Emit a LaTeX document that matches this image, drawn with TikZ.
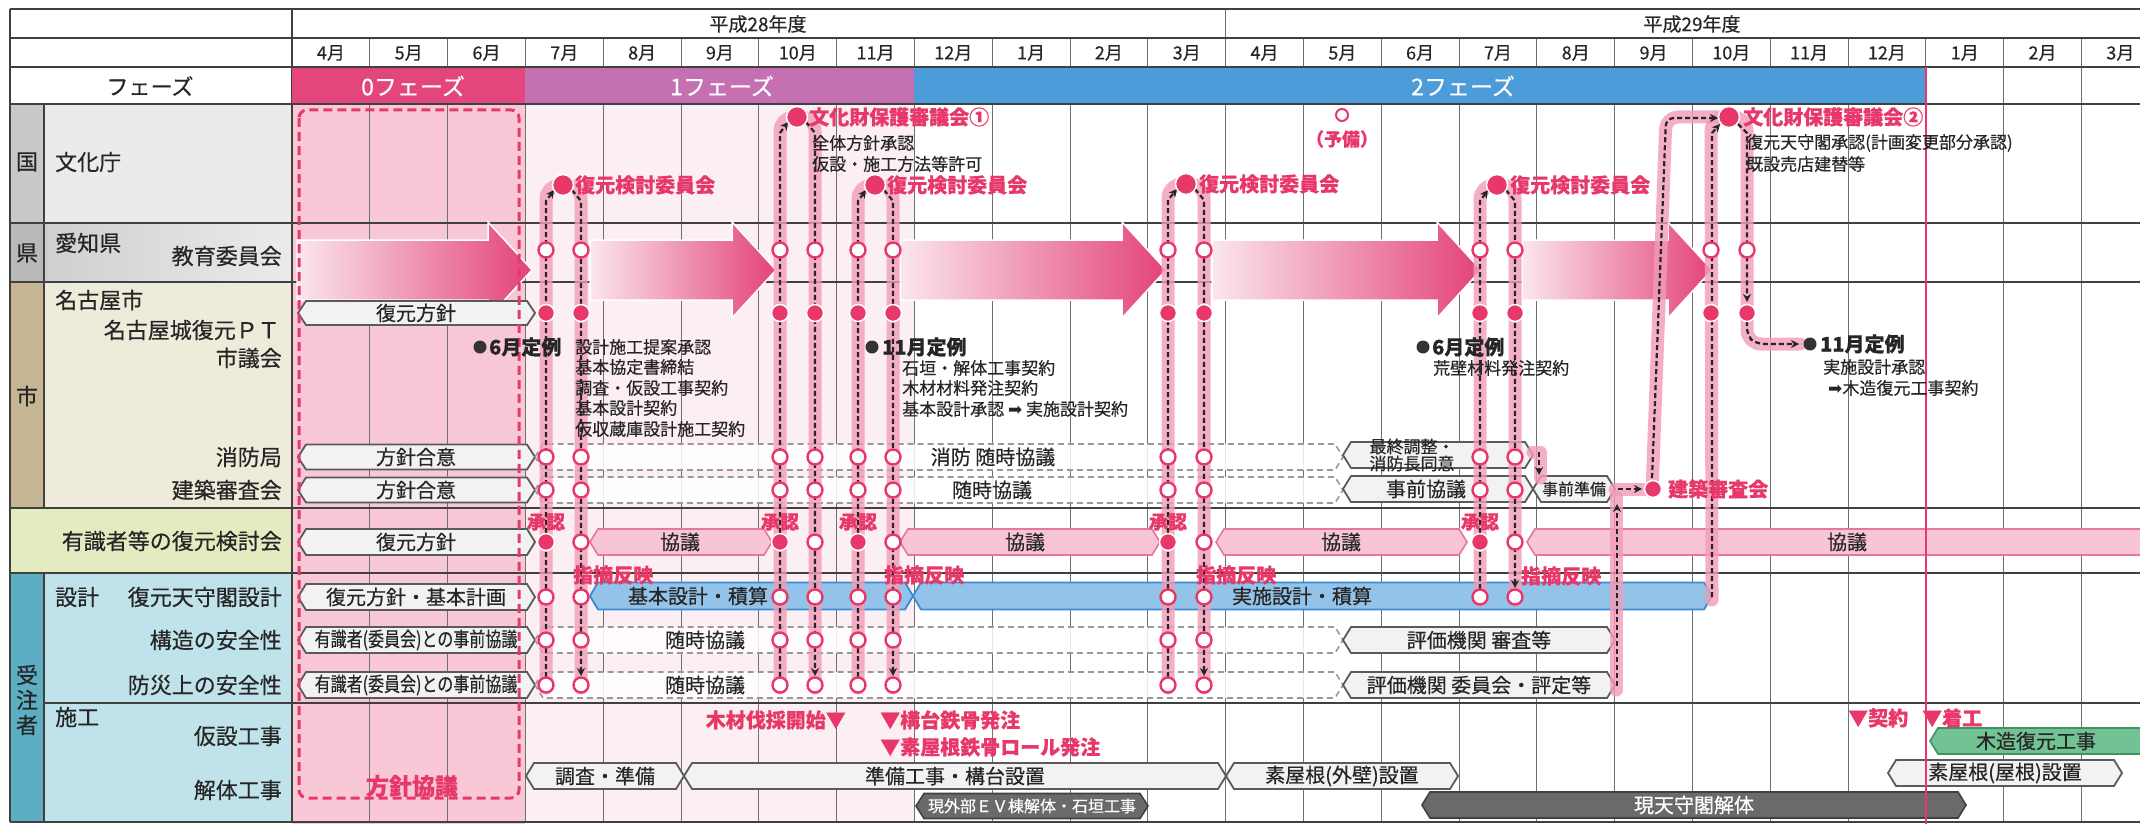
\documentclass[tikz,border=0pt]{standalone}
\usepackage{fontspec}
\setmainfont{Noto Sans CJK JP}[FakeBold=0.45]
\newfontfamily\dejavu{DejaVu Sans}
\usetikzlibrary{arrows.meta}
\definecolor{rd}{HTML}{E8386A}
\definecolor{glowc}{HTML}{F29CB6}
\definecolor{phA}{HTML}{E2467C}
\definecolor{phB}{HTML}{C670B4}
\definecolor{phC}{HTML}{4C9CD9}
\definecolor{bgpink}{HTML}{F9C8D7}
\definecolor{bgfaint}{HTML}{FCEFF3}
\definecolor{kuniA}{HTML}{C9C9C9}
\definecolor{kuniB}{HTML}{EBEBEB}
\definecolor{kenA}{HTML}{B9B9B9}
\definecolor{kenB}{HTML}{CFCFCF}
\definecolor{shiA}{HTML}{C6B693}
\definecolor{shiB}{HTML}{EFEBDA}
\definecolor{grn}{HTML}{E3ECC0}
\definecolor{tealA}{HTML}{5DADC3}
\definecolor{tealB}{HTML}{C0E3EB}
\definecolor{boxfill}{HTML}{F2F2F2}
\definecolor{boxline}{HTML}{5A5A5A}
\definecolor{kyogi}{HTML}{F8C5D6}
\definecolor{kyogiL}{HTML}{E5769D}
\definecolor{blueF}{HTML}{93C3E8}
\definecolor{blueL}{HTML}{3A8BD3}
\definecolor{darkbox}{HTML}{6A6A6A}
\definecolor{greenbox}{HTML}{72C293}
\definecolor{greenL}{HTML}{3E9461}
\definecolor{gridc}{HTML}{707070}
\definecolor{arrL}{HTML}{FBE6ED}
\definecolor{arrR}{HTML}{E3437A}
\newcommand\fsz[1]{\fontsize{#1}{#1}\selectfont}
\newcommand\hexdraw[5]{\draw[#1] (#2,#4) -- ({#2+8},{#4-#5}) -- ({#3-8},{#4-#5}) -- (#3,#4) -- ({#3-8},{#4+#5}) -- ({#2+8},{#4+#5}) -- cycle;}
\newcommand\bigarrow[2]{\shadedraw[draw=white, line width=1.5, left color=arrL, right color=arrR] (#1,240) -- ({#2-44},240) -- ({#2-44},222) -- (#2,270) -- ({#2-44},318) -- ({#2-44},300) -- (#1,300) -- cycle;}
\newcommand\loopath[5]{%
  \draw[glowln, rounded corners=14] (#1,{#4+3}) -- (#1,#3) -- (#2,#3) -- (#2,{#4+3});
  \draw[bd, arr] (#1,#4) -- (#1,{#3+16}) -- ({#5-9},{#3+5});
  \draw[bd, arr] ({#5+9},{#3+5}) -- (#2,{#3+16}) -- (#2,{#4-9});}
\begin{document}
\begin{tikzpicture}[x=1pt, y=-1pt,
  lbl/.style={font=\fsz{22}, inner sep=0, text=black!85},
  mon/.style={font=\fsz{18}, inner sep=0, text=black!85},
  bx/.style={font=\fsz{20}, inner sep=0, text=black!85},
  sm/.style={font=\fsz{17}, inner sep=0, anchor=west, text=black!85},
  kl/.style={font=\fsz{20}\bfseries, inner sep=0, anchor=west, text=black!85},
  rl/.style={font=\fsz{20}\bfseries, inner sep=0, text=rd},
  rowln/.style={draw=black!75, line width=1.3},
  gridln/.style={draw=gridc, line width=0.9},
  hexbox/.style={draw=boxline, fill=boxfill, line width=1.8},
  hexdash/.style={draw=black!40, dash pattern=on 6pt off 4pt, line width=1.6, fill=white, fill opacity=0.85},
  hexpink/.style={draw=kyogiL, fill=kyogi, line width=1.6},
  hexblue/.style={draw=blueL, fill=blueF, line width=1.8},
  hexdark/.style={draw=black!75, fill=darkbox, line width=1.6},
  hexgreen/.style={draw=greenL, fill=greenbox, line width=1.6},
  glowln/.style={line width=13, draw=glowc, draw opacity=0.8, line cap=round, line join=round},
  bd/.style={line width=2.2, draw=black!85, dash pattern=on 5pt off 3pt},
  arr/.style={-{Stealth[length=8pt,width=8pt]}},
  oc/.style={circle, draw=rd, fill=white, line width=2.4, minimum size=15, inner sep=0},
  fc/.style={circle, draw=white, fill=rd, line width=1.5, minimum size=17, inner sep=0},
  td/.style={circle, draw=white, fill=rd, line width=1.5, minimum size=21, inner sep=0},
  kd/.style={circle, fill=black!80, minimum size=13, inner sep=0}]
\useasboundingbox (0,0) rectangle (2140,824);
\fill[white] (0,0) rectangle (2140,824);
% left column colours
\fill[kuniA] (10,104) rectangle (44,223);
\fill[kuniB] (44,104) rectangle (292,223);
\fill[kenA] (10,223) rectangle (44,282);
\shade[left color=kenB, right color=kuniB] (44,223) rectangle (292,282);
\fill[shiA] (10,282) rectangle (44,508);
\fill[shiB] (44,282) rectangle (292,508);
\fill[grn] (10,508) rectangle (292,573);
\fill[tealA] (10,573) rectangle (44,822);
\fill[tealB] (44,573) rectangle (292,822);
% chart backgrounds
\fill[bgfaint] (525.4,104) rectangle (914.4,822);
\fill[bgpink] (292,104) rectangle (525.4,824);
% grid
\foreach \i in {1,...,23} \draw[gridln] ({292+77.8*\i},38) -- ({292+77.8*\i},822);
\draw[gridln] (1225.6,9) -- (1225.6,38);
\foreach \y in {9,38,67,104,223,282,508,573,822} \draw[rowln] (10,\y) -- (2140,\y);
\draw[rowln] (44,703) -- (2140,703);
\draw[rowln] (10,9) -- (10,822);
\draw[rowln] (292,9) -- (292,822);
\draw[rowln] (44,104) -- (44,508);
\draw[rowln] (44,573) -- (44,822);
% phase bars
\fill[phA] (292,68) rectangle (525.4,103.5);
\fill[phB] (525.4,68) rectangle (914.4,103.5);
\fill[phC] (914.4,68) rectangle (1925.8,103.5);
\node[font=\fsz{23}, text=white, inner sep=0] (ph0) at (413,86) {0フェーズ};
\node[font=\fsz{23}, text=white, inner sep=0] (ph1) at (722,86) {1フェーズ};
\node[font=\fsz{23}, text=white, inner sep=0] (ph2) at (1463,86) {2フェーズ};
% header texts
\node[mon, font=\fsz{19}] (yr1) at (758,24) {平成28年度};
\node[mon, font=\fsz{19}] (yr2) at (1692,24) {平成29年度};
\foreach \m [count=\i from 0] in {4,5,6,7,8,9,10,11,12,1,2,3,4,5,6,7,8,9,10,11,12,1,2,3}
  \node[mon] (mon\i) at ({292+77.8*(\i+0.5)},53) {\m 月};
\node[lbl] (phase) at (150,86) {フェーズ};
% left labels
\node[lbl] (kuni) at (27,162) {国};
\node[lbl, anchor=west] (bunka) at (55,162) {文化庁};
\node[lbl] (ken) at (27,253) {県};
\node[lbl, anchor=west] (aichi) at (55,243) {愛知県};
\node[lbl, anchor=east] (kyoiku) at (282,256) {教育委員会};
\node[lbl] (shi) at (27,396) {市};
\node[lbl, anchor=west] (nagoya) at (55,300) {名古屋市};
\node[lbl, anchor=east] (pt) at (280,330) {名古屋城復元ＰＴ};
\node[lbl, anchor=east] (gikai) at (282,358) {市議会};
\node[lbl, anchor=east] (shobo) at (282,457) {消防局};
\node[lbl, anchor=east] (kenchiku) at (282,490) {建築審査会};
\node[lbl, anchor=east] (yushiki) at (282,541) {有識者等の復元検討会};
\node[lbl, align=center, font=\fontsize{22}{25}\selectfont] (juchu) at (27,700) {受\\注\\者};
\node[lbl, anchor=west] (sekkei) at (55,597) {設計};
\node[lbl, anchor=east] (tenshu) at (282,597) {復元天守閣設計};
\node[lbl, anchor=east] (kozo) at (282,640) {構造の安全性};
\node[lbl, anchor=east] (bosai) at (282,685) {防災上の安全性};
\node[lbl, anchor=west] (seko) at (55,717) {施工};
\node[lbl, anchor=east] (kasetsu) at (282,736) {仮設工事};
\node[lbl, anchor=east] (kaitai) at (282,790) {解体工事};
% big arrows
\bigarrow{297}{532}
\bigarrow{590}{776}
\bigarrow{900}{1166}
\bigarrow{1212}{1481}
\bigarrow{1522}{1712}
% boxes
\hexdraw{hexbox}{298}{535}{313}{12}
\node[bx] (b1) at (416,313) {復元方針};
\hexdraw{hexbox}{298}{535}{457}{12.5}
\node[bx] (b2) at (416,457) {方針合意};
\hexdraw{hexbox}{298}{535}{490}{12.5}
\node[bx] (b3) at (416,490) {方針合意};
\hexdraw{hexdash}{535}{1343}{457}{13}
\node[bx] (b4) at (993,457) {消防 随時協議};
\hexdraw{hexdash}{535}{1343}{490}{13}
\node[bx] (b5) at (992,490) {随時協議};
\hexdraw{hexbox}{1343}{1533}{455}{13}
\node[bx, align=center, font=\fontsize{17}{17}\selectfont] (b6) at (1412,455) {最終調整・\\消防長同意};
\hexdraw{hexbox}{1343}{1533}{489}{13}
\node[bx] (b7) at (1426,489) {事前協議};
\hexdraw{hexbox}{1533}{1615}{489}{13}
\node[bx, font=\fsz{16}] (b8) at (1574,489) {事前準備};
\hexdraw{hexbox}{298}{535}{542}{13}
\node[bx] (b9) at (416,542) {復元方針};
\hexdraw{hexpink}{590}{772}{542}{13}
\node[bx] (b10) at (680,542) {協議};
\hexdraw{hexpink}{900}{1160}{542}{13}
\node[bx] (b11) at (1025,542) {協議};
\hexdraw{hexpink}{1216}{1467}{542}{13}
\node[bx] (b12) at (1341,542) {協議};
\hexdraw{hexpink}{1527}{2180}{542}{13}
\node[bx] (b13) at (1847,542) {協議};
\hexdraw{hexbox}{298}{535}{597}{13}
\node[bx] (b14) at (416,597) {復元方針・基本計画};
\hexdraw{hexblue}{590}{913}{596}{13.5}
\node[bx] (b15) at (698,596) {基本設計・積算};
\hexdraw{hexblue}{913}{1712}{596}{13.5}
\node[bx] (b16) at (1302,596) {実施設計・積算};
\hexdraw{hexbox}{298}{535}{640}{13}
\node[bx] (b17) at (416,640) {\scalebox{0.8}[1]{有識者(委員会)との事前協議}};
\hexdraw{hexdash}{535}{1343}{640}{13}
\node[bx] (b18) at (705,640) {随時協議};
\hexdraw{hexbox}{1343}{1615}{640}{13}
\node[bx] (b19) at (1479,640) {評価機関 審査等};
\hexdraw{hexbox}{298}{535}{685}{13}
\node[bx] (b20) at (416,685) {\scalebox{0.8}[1]{有識者(委員会)との事前協議}};
\hexdraw{hexdash}{535}{1343}{685}{13}
\node[bx] (b21) at (705,685) {随時協議};
\hexdraw{hexbox}{1343}{1615}{685}{13}
\node[bx] (b22) at (1479,685) {評価機関 委員会・評定等};
\hexdraw{hexbox}{526}{684}{776}{13}
\node[bx] (b23) at (605,776) {調査・準備};
\hexdraw{hexbox}{684}{1226}{776}{13}
\node[bx] (b24) at (955,776) {準備工事・構台設置};
\hexdraw{hexbox}{1226}{1458}{776}{13}
\node[bx] (b25) at (1342,776) {素屋根(外壁)設置};
\hexdraw{hexdark}{916}{1148}{806}{12.5}
\node[bx, font=\fsz{16}, text=white] (b26) at (1032,806) {現外部ＥＶ棟解体・石垣工事};
\hexdraw{hexdark}{1422}{1966}{805}{13}
\node[bx, text=white] (b27) at (1694,805) {現天守閣解体};
\hexdraw{hexgreen}{1930}{2180}{741}{13}
\node[bx] (b28) at (2036,741) {木造復元工事};
\hexdraw{hexbox}{1888}{2122}{773}{13}
\node[bx] (b29) at (2005,773) {素屋根(屋根)設置};
% phase 0 dashed frame
\draw[rd, line width=3, dash pattern=on 9pt off 5pt, rounded corners=8] (299,110) rectangle (519,798);
\node[rl, font=\fsz{23}\bfseries] (hoshin) at (412,786) {方針協議};
% now line
\draw[rd, line width=2.5] (1925.8,67) -- (1925.8,824);
% loops
\loopath{546}{581}{185}{685}{563}
\loopath{780}{815}{117}{685}{797}
\loopath{858}{893}{185}{685}{875}
\loopath{1168}{1204}{184}{685}{1186}
\loopath{1480}{1515}{185}{597}{1497}
% F and connectors
\draw[glowln, rounded corners=14] (1712,600) -- (1711,117) -- (1747,117) -- (1747,344) -- (1800,344);
\draw[glowln, rounded corners=12] (1652,492) -- (1666,117) -- (1722,117);
\draw[glowln] (1533,452) -- (1540,452) -- (1540,478);
\draw[glowln] (1615,489) -- (1650,489);
\draw[glowln] (1616,690) -- (1616,497);
\draw[bd, arr] (1712,597) -- (1712,133) -- (1720,124);
\draw[bd, arr] (1738,124) -- (1747,133) -- (1747,302);
\draw[bd, arr, rounded corners=8] (1747,313) -- (1747,336) -- (1756,344) -- (1799,344);
\draw[bd, arr, rounded corners=8] (1652,478) -- (1666,118) -- (1718,118);
\draw[bd, arr] (1539,452) -- (1539,475);
\draw[bd, arr] (1618,489) -- (1642,489);
\draw[bd, arr] (1617,686) -- (1617,504);
% circles
\foreach \p/\xl/\xr in {A/546/581, B/780/815, C/858/893, D/1168/1204} {
  \foreach \r/\y in {k/250, s/457, c/490, d/597, z/640, b/685} {
    \node[oc] (\p L\r) at (\xl,\y) {};
    \node[oc] (\p R\r) at (\xr,\y) {};
  }
  \node[fc] (\p Lp) at (\xl,313) {};
  \node[fc] (\p Rp) at (\xr,313) {};
  \node[fc] (\p Ly) at (\xl,542) {};
  \node[oc] (\p Ry) at (\xr,542) {};
}
\foreach \r/\y in {k/250, s/457, c/490, d/597} {
  \node[oc] (EL\r) at (1480,\y) {};
  \node[oc] (ER\r) at (1515,\y) {};
}
\node[fc] (ELp) at (1480,313) {};
\node[fc] (ERp) at (1515,313) {};
\node[fc] (ELy) at (1480,542) {};
\node[oc] (ERy) at (1515,542) {};
\node[oc] (FLk) at (1711,250) {};
\node[fc] (FLp) at (1711,313) {};
\node[oc] (FRk) at (1747,250) {};
\node[fc] (FRp) at (1747,313) {};
\node[td] (At) at (563,185) {};
\node[td] (Bt) at (797,117) {};
\node[td] (Ct) at (875,185) {};
\node[td] (Dt) at (1186,184) {};
\node[td] (Et) at (1497,185) {};
\node[td] (Ft) at (1729,117) {};
\node[fc] (Kdot) at (1653,489) {};
\node[oc, minimum size=12, line width=2] (yobi) at (1342,115) {};
% red labels
\node[rl, anchor=west] (lA) at (575,185) {復元検討委員会};
\node[rl, anchor=west] (lB) at (809,117) {文化財保護審議会①};
\node[rl, anchor=west] (lC) at (887,185) {復元検討委員会};
\node[rl, anchor=west] (lD) at (1199,184) {復元検討委員会};
\node[rl, anchor=west] (lE) at (1510,185) {復元検討委員会};
\node[rl, anchor=west] (lF) at (1743,117) {文化財保護審議会②};
\node[rl, anchor=west] (lK) at (1668,489) {建築審査会};
\node[rl, font=\fsz{18}\bfseries] (lyobi) at (1342,139) {（予備）};
\foreach \x [count=\k] in {546,780,858,1168,1480}
  \node[rl, font=\fsz{19}\bfseries] (sho\k) at (\x,522) {承認};
\node[rl, anchor=west] (sa1) at (573,575) {指摘反映};
\node[rl, anchor=west] (sa2) at (884,575) {指摘反映};
\node[rl, anchor=west] (sa3) at (1196,575) {指摘反映};
\node[rl, anchor=west] (sa4) at (1521,576) {指摘反映};
\node[rl, anchor=east] (mokuzai) at (846,720) {木材伐採開始▼};
\node[rl, anchor=west] (kodai) at (880,720) {▼構台鉄骨発注};
\node[rl, anchor=west] (suyane) at (880,747) {▼素屋根鉄骨ロール発注};
\node[rl, anchor=west] (keiyaku) at (1848,718) {▼契約};
\node[rl, anchor=west] (chako) at (1922,718) {▼着工};
% black texts
\node[sm] (bt1) at (812,143) {全体方針承認};
\node[sm] (bt2) at (812,164) {仮設・施工方法等許可};
\node[sm] (ft1) at (1746,143) {復元天守閣承認(計画変更部分承認)};
\node[sm] (ft2) at (1746,164) {既設売店建替等};
\node[kd] (d6a) at (480,347) {};
\node[kl] (t6a) at (489,347) {6月定例};
\node[sm] (t6a1) at (575,347) {設計施工提案承認};
\node[sm] (t6a2) at (575,367) {基本協定書締結};
\node[sm] (t6a3) at (575,388) {調査・仮設工事契約};
\node[sm] (t6a4) at (575,408) {基本設計契約};
\node[sm] (t6a5) at (575,429) {仮収蔵庫設計施工契約};
\node[kd] (d11a) at (872,347) {};
\node[kl] (t11a) at (882,347) {11月定例};
\node[sm] (t11a1) at (902,368) {石垣・解体工事契約};
\node[sm] (t11a2) at (902,388) {木材材料発注契約};
\node[sm] (t11a3) at (902,409) {基本設計承認 {\dejavu ➡} 実施設計契約};
\node[kd] (d6b) at (1423,347) {};
\node[kl] (t6b) at (1432,347) {6月定例};
\node[sm] (t6b1) at (1433,368) {荒壁材料発注契約};
\node[kd] (d11b) at (1810,344) {};
\node[kl] (t11b) at (1820,344) {11月定例};
\node[sm] (t11b1) at (1823,367) {実施設計承認};
\node[sm] (t11b2) at (1828,388) {{\dejavu ➡}木造復元工事契約};
\end{tikzpicture}
\end{document}
